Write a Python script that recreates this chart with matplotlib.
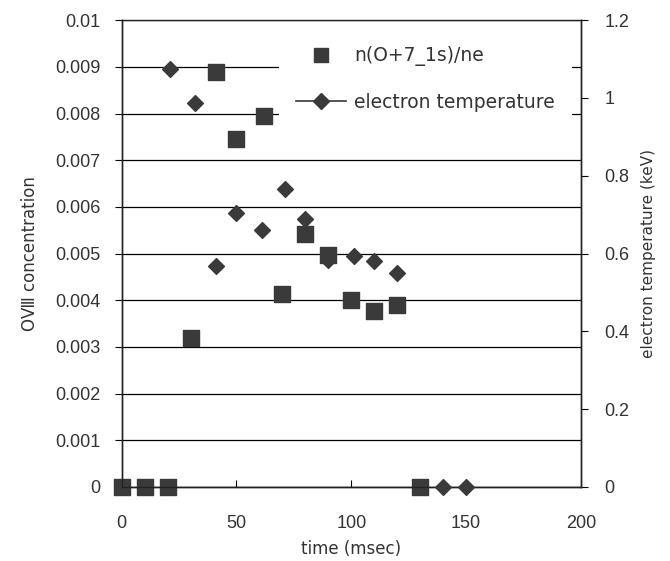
import matplotlib
matplotlib.use('Agg')
import matplotlib.pyplot as plt
from matplotlib.lines import Line2D

# n(O+7_1s)/ne  (left axis)
t_conc = [0, 10, 20, 30, 41, 50, 62, 70, 80, 90, 100, 110, 120, 130]
conc = [0, 0, 0, 0.0032, 0.0089, 0.00746, 0.00794, 0.00413, 0.00543,
        0.00496, 0.0040, 0.00377, 0.00389, 0]

# electron temperature in keV (right axis)
t_te = [21, 32, 41, 50, 61, 71, 80, 90, 101, 110, 120, 140, 150]
te = [1.075, 0.987, 0.567, 0.704, 0.66, 0.767, 0.69, 0.583, 0.593,
      0.58, 0.55, 0, 0]

left_ticks = [0, 0.001, 0.002, 0.003, 0.004, 0.005, 0.006, 0.007, 0.008, 0.009, 0.01]
left_labels = ['0', '0.001', '0.002', '0.003', '0.004', '0.005', '0.006',
               '0.007', '0.008', '0.009', '0.01']
right_ticks = [0, 0.2, 0.4, 0.6, 0.8, 1.0, 1.2]
right_labels = ['0', '0.2', '0.4', '0.6', '0.8', '1', '1.2']
x_ticks = [0, 50, 100, 150, 200]

txt_font = ['DejaVu Sans', 'Noto Sans CJK JP']
num_font = 'Liberation Sans'
mcol = '#3a3a3a'
tcol = '#333333'

fig = plt.figure(figsize=(6.7, 5.61), dpi=100)
ax = fig.add_axes([0.1816, 0.132, 0.6855, 0.832])
ax2 = ax.twinx()

ax.set_xlim(0, 200)
ax.set_ylim(0, 0.01)
ax2.set_ylim(0, 1.2)

ax.set_yticks(left_ticks)
ax.set_yticklabels(left_labels, fontfamily=num_font, fontsize=13, color=tcol)
ax2.set_yticks(right_ticks)
ax2.set_yticklabels(right_labels, fontfamily=num_font, fontsize=13, color=tcol)
ax.set_xticks(x_ticks)
ax.set_xticklabels([str(v) for v in x_ticks], fontfamily=num_font, fontsize=13, color=tcol)

ax.tick_params(axis='x', direction='in', length=5, pad=20)
ax.tick_params(axis='y', direction='out', length=5, pad=10)
ax2.tick_params(axis='y', direction='out', length=5, pad=12)

ax.grid(axis='y', color='black', linewidth=0.9)
ax.set_axisbelow(True)
for a in (ax, ax2):
    for s in a.spines.values():
        s.set_color('#222222')
        s.set_linewidth(1.0)
ax.spines['top'].set_linewidth(0.6)
ax.spines['top'].set_color('#777777')

ax.scatter(t_conc, conc, marker='s', s=120, color=mcol, zorder=5, clip_on=False)
ax2.scatter(t_te, te, marker='D', s=65, color=mcol, zorder=5, clip_on=False)

ax.set_ylabel('OⅧ concentration', fontfamily=txt_font, fontsize=12, color=tcol, labelpad=12)
ax2.set_ylabel('electron temperature (keV)', fontfamily=txt_font, fontsize=11, color=tcol, labelpad=8)
ax.set_xlabel('time (msec)', fontfamily=txt_font, fontsize=12, color=tcol, labelpad=6)

handles = [
    Line2D([], [], linestyle='none', marker='s', markersize=10, color=mcol),
    Line2D([], [], linestyle='-', marker='D', markersize=8, color=mcol, linewidth=1.2),
]
leg = ax2.legend(handles, ['n(O+7_1s)/ne', 'electron temperature'],
                 loc='upper right', bbox_to_anchor=(1.0, 1.0),
                 prop={'family': txt_font, 'size': 13.5}, frameon=True, fancybox=False,
                 facecolor='white', edgecolor='none', framealpha=1,
                 handlelength=2.7, labelspacing=1.4, borderpad=0.9, handletextpad=0.4)
for t in leg.get_texts():
    t.set_color(tcol)

fig.savefig('out.png', dpi=100)
